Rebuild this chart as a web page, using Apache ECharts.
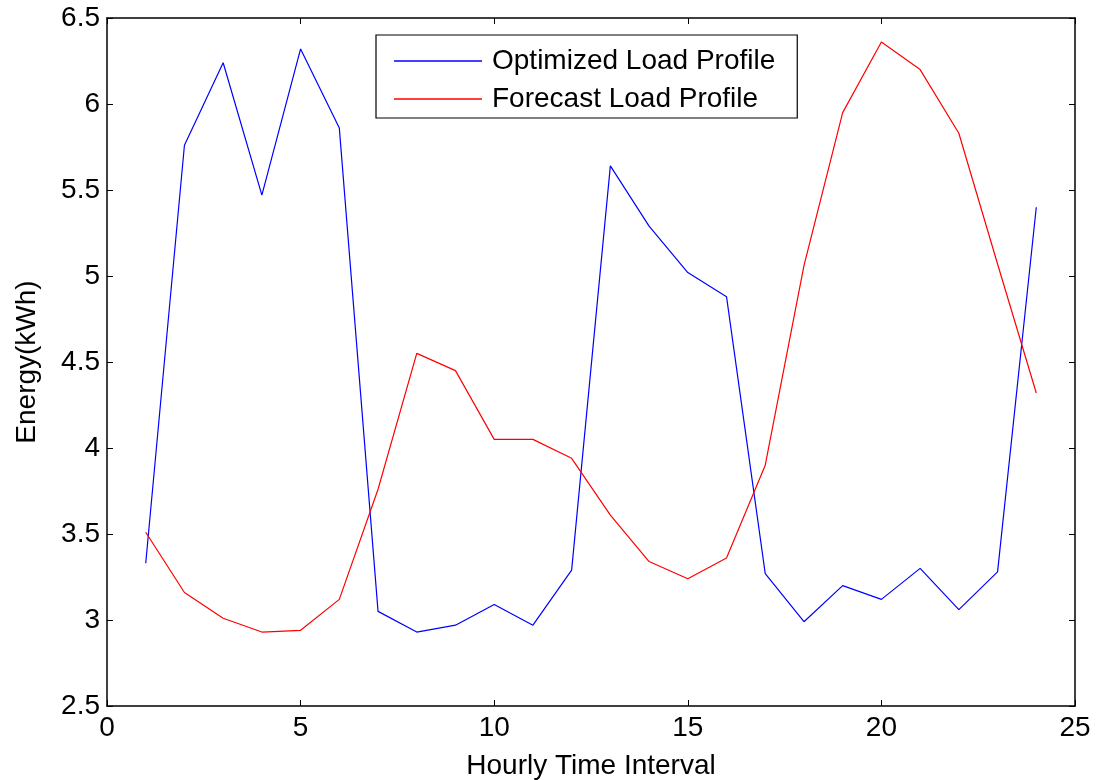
<!DOCTYPE html>
<html>
<head>
<meta charset="utf-8">
<title>Load Profiles</title>
<script src="https://cdn.jsdelivr.net/npm/echarts@6/dist/echarts.min.js"></script>
<style>
  html, body { margin: 0; padding: 0; background: #fff; }
  #chart { width: 1101px; height: 780px; }
</style>
</head>
<body>
<div id="chart"></div>
<script>
// Hour index for each interval
const hours = [1, 2, 3, 4, 5, 6, 7, 8, 9, 10, 11, 12, 13, 14, 15, 16, 17, 18, 19, 20, 21, 22, 23, 24];

// Energy per hour (kWh)
const optimizedLoad = [3.33, 5.76, 6.24, 5.47, 6.32, 5.86, 3.05, 2.93, 2.97, 3.09, 2.97, 3.29,
                       5.64, 5.29, 5.02, 4.88, 3.27, 2.99, 3.20, 3.12, 3.30, 3.06, 3.28, 5.40];
const forecastLoad = [3.51, 3.16, 3.01, 2.93, 2.94, 3.12, 3.76, 4.55, 4.45, 4.05, 4.05, 3.94,
                      3.61, 3.34, 3.24, 3.36, 3.90, 5.06, 5.95, 6.36, 6.20, 5.83, 5.07, 4.32];

const seriesNames = ['Optimized Load Profile', 'Forecast Load Profile'];
const xTitle = 'Hourly Time Interval';
const yTitle = 'Energy(kWh)';

const pairs = (ys) => hours.map((h, i) => [h, ys[i]]);

const FONT = '"Liberation Sans", Arial, Helvetica, sans-serif';
const FS = 28;
const tickStyle = { show: true, inside: true, length: 6, lineStyle: { color: '#000', width: 1 } };
const lineStyleAxis = { show: true, onZero: false, lineStyle: { color: '#000', width: 1.5 } };

const chart = echarts.init(document.getElementById('chart'), null, { renderer: 'canvas' });

chart.setOption({
  backgroundColor: '#fff',
  animation: false,
  grid: { left: 107, right: 26, top: 18, bottom: 74, containLabel: false, outerBoundsMode: 'none' },
  legend: {
    left: 376,
    top: 35,
    orient: 'vertical',
    backgroundColor: '#fff',
    borderColor: '#000',
    borderWidth: 1.2,
    borderRadius: 0,
    padding: [10, 22, 3, 18],
    icon: 'rect',
    itemWidth: 88,
    itemHeight: 1.3,
    itemGap: 6,
    textStyle: { fontFamily: FONT, fontSize: FS, color: '#000', lineHeight: 32, padding: [0, 0, 0, 5] },
    data: seriesNames
  },
  xAxis: [
    {
      type: 'value', min: 0, max: 25, interval: 5,
      name: xTitle, nameLocation: 'middle', nameGap: 46,
      nameTextStyle: { fontFamily: FONT, fontSize: FS, color: '#000' },
      axisLine: lineStyleAxis,
      axisTick: tickStyle,
      axisLabel: { fontFamily: FONT, fontSize: FS, color: '#000', margin: 8 },
      splitLine: { show: false }
    },
    {
      type: 'value', min: 0, max: 25, interval: 5, position: 'top',
      axisLine: lineStyleAxis,
      axisTick: tickStyle,
      axisLabel: { show: false },
      splitLine: { show: false }
    }
  ],
  yAxis: [
    {
      type: 'value', min: 2.5, max: 6.5, interval: 0.5,
      name: yTitle, nameLocation: 'middle', nameGap: 66, nameRotate: 90,
      nameTextStyle: { fontFamily: FONT, fontSize: FS, color: '#000' },
      axisLine: lineStyleAxis,
      axisTick: tickStyle,
      axisLabel: { fontFamily: FONT, fontSize: FS, color: '#000', margin: 7 },
      splitLine: { show: false }
    },
    {
      type: 'value', min: 2.5, max: 6.5, interval: 0.5, position: 'right',
      axisLine: lineStyleAxis,
      axisTick: tickStyle,
      axisLabel: { show: false },
      splitLine: { show: false }
    }
  ],
  series: [
    {
      name: seriesNames[0], type: 'line', xAxisIndex: 0, yAxisIndex: 0,
      data: pairs(optimizedLoad), symbol: 'none',
      lineStyle: { color: '#0000ff', width: 1.2 }, itemStyle: { color: '#0000ff' }
    },
    {
      name: seriesNames[1], type: 'line', xAxisIndex: 0, yAxisIndex: 0,
      data: pairs(forecastLoad), symbol: 'none',
      lineStyle: { color: '#ff0000', width: 1.2 }, itemStyle: { color: '#ff0000' }
    }
  ]
});
</script>
</body>
</html>
